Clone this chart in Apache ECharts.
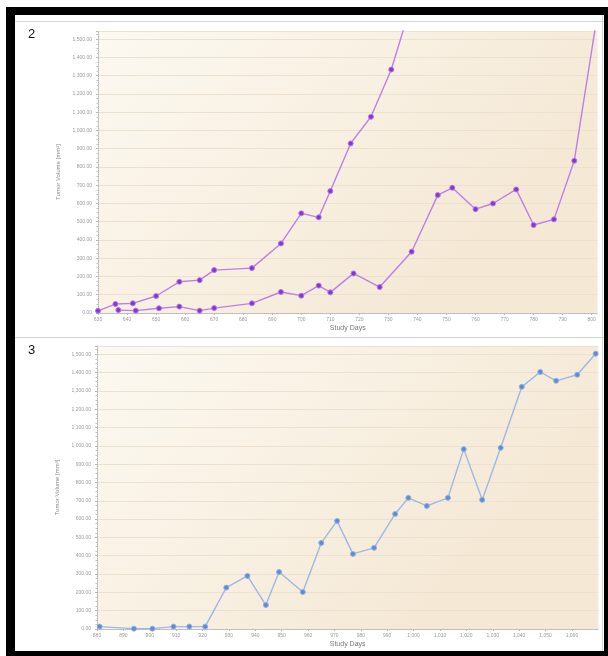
<!DOCTYPE html>
<html>
<head>
<meta charset="utf-8">
<script src="https://cdn.jsdelivr.net/npm/echarts@6/dist/echarts.min.js"></script>
<style>
  html, body { margin: 0; padding: 0; background: #ffffff; }
  #chart { width: 608px; height: 656px; }
</style>
</head>
<body>
<div id="chart"></div>
<script>
// Animal 2: two tumours measured over study days
const daysTumorA = [630, 636, 642, 650, 658, 665, 670, 683, 693, 700, 706, 710, 717, 724, 731, 738];
const volTumorA  = [12, 49, 53, 93, 171, 180, 235, 246, 381, 546, 524, 668, 929, 1075, 1334, 1700];
const daysTumorB = [637, 643, 651, 658, 665, 670, 683, 693, 700, 706, 710, 718, 727, 738, 747, 752, 760, 766, 774, 780, 787, 794, 802];
const volTumorB  = [16, 13, 26, 35, 13, 27, 53, 115, 95, 150, 113, 217, 142, 336, 646, 686, 569, 600, 677, 482, 513, 834, 1640];

// Animal 3: single tumour
const daysTumorC = [881, 894, 901, 909, 915, 921, 929, 937, 944, 949, 958, 965, 971, 977, 985, 993, 998, 1005, 1013, 1019, 1026, 1033, 1041, 1048, 1054, 1062, 1069];
const volTumorC  = [13, 2, 2, 13, 13, 13, 226, 290, 131, 311, 202, 470, 590, 410, 443, 628, 716, 672, 716, 982, 705, 989, 1322, 1403, 1355, 1388, 1503];

const panelLabels = ['2', '3'];
const xTitle = 'Study Days';
const yTitle = 'Tumor Volume [mm³]';

const pairs = (xs, ys) => xs.map((x, i) => [x, ys[i]]);

const plotBg = {
  type: 'linear', x: 0, y: 0, x2: 0.6, y2: 1,
  colorStops: [
    { offset: 0, color: '#fcf9f1' },
    { offset: 1, color: '#f5e9d6' }
  ]
};

function xAxisCfg(gridIndex, min, max) {
  return {
    type: 'value', gridIndex, min, max, interval: 10,
    name: xTitle, nameLocation: 'middle', nameGap: 12,
    nameTextStyle: { fontSize: 7, color: '#7a7a7a', fontFamily: 'Liberation Sans' },
    axisLine: { show: true, lineStyle: { color: '#b8b8b8', type: 'dotted' } },
    axisTick: { show: true, length: 2, lineStyle: { color: '#b8b8b8' } },
    axisLabel: {
      fontSize: 5, color: '#9a9a9a', margin: 4, showMaxLabel: false,
      fontFamily: 'Liberation Sans',
      formatter: v => v.toLocaleString('en-US')
    },
    splitLine: { show: false }
  };
}

function yAxisCfg(gridIndex) {
  return {
    type: 'value', gridIndex, min: 0, max: 1545, interval: 100,
    name: yTitle, nameLocation: 'middle', nameGap: 32,
    nameTextStyle: { fontSize: 6, color: '#8a8a8a', fontFamily: 'Liberation Sans' },
    axisLine: { show: true, lineStyle: { color: '#b8b8b8', type: 'dotted' } },
    axisTick: { show: true, length: 2, lineStyle: { color: '#b8b8b8' } },
    minorTick: { show: true, splitNumber: 4, length: 1.5, lineStyle: { color: '#c4c4c4' } },
    axisLabel: {
      fontSize: 5, color: '#9a9a9a', margin: 6, showMaxLabel: false,
      fontFamily: 'Liberation Sans',
      formatter: v => v.toLocaleString('en-US', { minimumFractionDigits: 2, maximumFractionDigits: 2 })
    },
    splitLine: { show: true, lineStyle: { color: '#ebe1ce', width: 1 } }
  };
}

function lineSeries(xi, data, lineColor, dotColor, haloColor) {
  return {
    type: 'line', xAxisIndex: xi, yAxisIndex: xi, data,
    symbol: 'circle', symbolSize: 5, clip: true,
    lineStyle: { color: lineColor, width: 1.4 },
    itemStyle: { color: dotColor, borderColor: haloColor, borderWidth: 1 },
    animation: false
  };
}

const chart = echarts.init(document.getElementById('chart'), null, { renderer: 'canvas' });
chart.setOption({
  animation: false,
  backgroundColor: '#ffffff',
  grid: [
    { left: 98, right: 10.5, top: 31, height: 282, show: true, backgroundColor: plotBg, borderWidth: 0 },
    { left: 97, right: 9.7, top: 346, height: 283, show: true, backgroundColor: plotBg, borderWidth: 0 }
  ],
  xAxis: [xAxisCfg(0, 630, 802), xAxisCfg(1, 880, 1070)],
  yAxis: [yAxisCfg(0), yAxisCfg(1)],
  series: [
    lineSeries(0, pairs(daysTumorA, volTumorA), '#bb80e8', '#8336d4', '#b27ae6'),
    lineSeries(0, pairs(daysTumorB, volTumorB), '#bb80e8', '#8336d4', '#b27ae6'),
    lineSeries(1, pairs(daysTumorC, volTumorC), '#9cb8e4', '#5d8cd6', '#93b1e2')
  ],
  graphic: [
    // panel separators
    { type: 'line', shape: { x1: 15, y1: 21.5, x2: 604, y2: 21.5 }, style: { stroke: '#d6d6d6', lineWidth: 1 }, silent: true },
    { type: 'line', shape: { x1: 15, y1: 337.5, x2: 604, y2: 337.5 }, style: { stroke: '#cfcfcf', lineWidth: 1 }, silent: true },
    { type: 'line', shape: { x1: 602.5, y1: 15, x2: 602.5, y2: 651 }, style: { stroke: '#d6d6d6', lineWidth: 1 }, silent: true },
    // panel numbers
    { type: 'text', left: 28, top: 28, style: { text: panelLabels[0], fontSize: 13, fill: '#111', fontFamily: 'Liberation Sans' } },
    { type: 'text', left: 28, top: 344, style: { text: panelLabels[1], fontSize: 13, fill: '#111', fontFamily: 'Liberation Sans' } },
    // black outer frame
    { type: 'rect', shape: { x: 6, y: 7, width: 9, height: 649 }, style: { fill: '#000' }, silent: true },
    { type: 'rect', shape: { x: 6, y: 7, width: 602, height: 8 }, style: { fill: '#000' }, silent: true },
    { type: 'rect', shape: { x: 604, y: 7, width: 4, height: 649 }, style: { fill: '#000' }, silent: true },
    { type: 'rect', shape: { x: 6, y: 651, width: 602, height: 5 }, style: { fill: '#000' }, silent: true }
  ]
});
</script>
</body>
</html>
